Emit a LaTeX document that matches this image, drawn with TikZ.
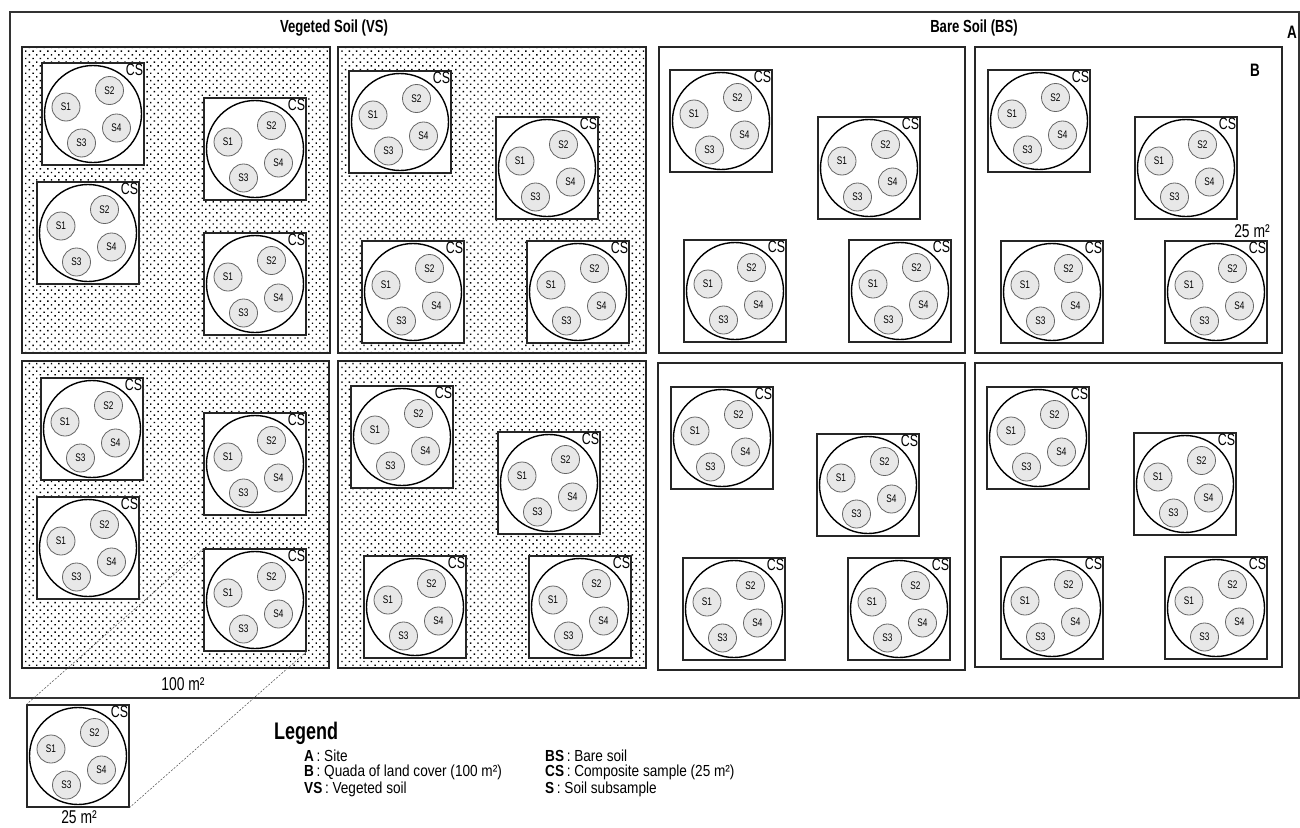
\documentclass[tikz,border=0pt]{standalone}
\usepackage{fontspec}
\setmainfont[FakeStretch=0.75]{Liberation Sans}
\newfontfamily\legfont[FakeStretch=0.85]{Liberation Sans}
\usetikzlibrary{patterns.meta,calc}
\newcommand{\fs}[1]{\fontsize{#1}{#1}\selectfont}
\tikzset{
  csbox/.style={draw=black!85, line width=1.1pt, fill=white, minimum width=102pt, minimum height=102pt, inner sep=0pt},
  cscirc/.style={circle, draw=black, line width=1.4pt, minimum size=97pt, inner sep=0pt},
  sub/.style={circle, draw=black!60, fill=black!9, line width=0.8pt, minimum size=28pt, inner sep=0pt, font=\fs{11}},
  cslabel/.style={anchor=north east, inner sep=1.2pt, font=\fs{16.5}},
  quad/.style={draw=black!85, line width=2pt},
  vsquad/.style={quad, pattern={Dots[distance=5.2pt, radius=1pt, angle=45]}},
  site/.style={draw=black!80, line width=1.5pt},
  zoomline/.style={draw=black!70, line width=0.5pt, dash pattern=on 2pt off 1.5pt},
  title/.style={font=\fs{17.5}\bfseries},
  letter/.style={font=\fs{18}\bfseries},
  area/.style={font=\fs{18.5}},
  legitem/.style={anchor=west, font=\legfont\fs{16}, inner sep=0pt},
}
\newcommand{\csgroup}[3]{%
  \node[csbox] (#1) at ({#2+51},{#3+51}) {};
  \node[cscirc] (#1-c) at (#1.center) {};
  \node[sub] (#1-s1) at ($(#1.center)+(-27,-7)$) {S1};
  \node[sub] (#1-s2) at ($(#1.center)+(16.5,-23.5)$) {S2};
  \node[sub] (#1-s3) at ($(#1.center)+(-11.5,29)$) {S3};
  \node[sub] (#1-s4) at ($(#1.center)+(23.5,14)$) {S4};
  \node[cslabel] (#1-l) at (#1.north east) {CS};
}
\begin{document}
\begin{tikzpicture}[x=1pt,y=-1pt]
\useasboundingbox (0,0) rectangle (1300,827);
% site A
\draw[site] (10,12) rectangle (1299,698);
% quadrats
\draw[vsquad] (22,47) rectangle (330,353);
\draw[vsquad] (338,47) rectangle (646,353);
\draw[quad] (659,47) rectangle (965,353);
\draw[quad] (975,47) rectangle (1282,353);
\draw[vsquad] (22,361) rectangle (329,668);
\draw[vsquad] (338,361) rectangle (646,668);
\draw[quad] (658,363) rectangle (965,670);
\draw[quad] (975,363) rectangle (1282,667);
% composite samples
\csgroup{q1a}{42}{63}\csgroup{q1b}{204}{98}\csgroup{q1c}{37}{182}\csgroup{q1d}{204}{233}
\csgroup{q2a}{349}{71}\csgroup{q2b}{496}{117}\csgroup{q2c}{362}{241}\csgroup{q2d}{527}{241}
\csgroup{q3a}{670}{70}\csgroup{q3b}{818}{117}\csgroup{q3c}{684}{240}\csgroup{q3d}{849}{240}
\csgroup{q4a}{988}{70}\csgroup{q4b}{1135}{117}\csgroup{q4c}{1001}{241}\csgroup{q4d}{1165}{241}
\csgroup{q5a}{41}{378}\csgroup{q5b}{204}{413}\csgroup{q5c}{37}{497}\csgroup{q5d}{204}{549}
\csgroup{q6a}{351}{386}\csgroup{q6b}{498}{432}\csgroup{q6c}{364}{556}\csgroup{q6d}{529}{556}
\csgroup{q7a}{671}{387}\csgroup{q7b}{817}{434}\csgroup{q7c}{683}{558}\csgroup{q7d}{848}{558}
\csgroup{q8a}{987}{387}\csgroup{q8b}{1134}{433}\csgroup{q8c}{1001}{557}\csgroup{q8d}{1165}{557}
\csgroup{zoomcs}{27}{705}
% zoom lines
\draw[zoomline] (q5d.north west) -- (zoomcs.north west);
\draw[zoomline] (q5d.south east) -- (zoomcs.south east);
% titles and labels
\node[title] (vstitle) at (334,28) {Vegeted Soil (VS)};
\node[title] (bstitle) at (974,28) {Bare Soil (BS)};
\node[letter] (lblA) at (1292,32) {A};
\node[letter] (lblB) at (1255,70) {B};
\node[area] (a100) at (183,684) {100 m²};
\node[area] (a25) at (79,817) {25 m²};
\node[area] (a25b) at (1252,231) {25 m²};
% legend
\node[anchor=west, font=\fs{24}, inner sep=0pt] (legend) at (274,733) {\textbf{Legend}};
\node[legitem] (legA) at (304,756) {\textbf{A}\,: Site};
\node[legitem] (legB) at (304,772.5) {\textbf{B}\,: Quada of land cover (100 m²)};
\node[legitem] (legVS) at (304,789) {\textbf{VS}\,: Vegeted soil};
\node[legitem] (legBS) at (545,756) {\textbf{BS}\,: Bare soil};
\node[legitem] (legCS) at (545,772.5) {\textbf{CS}\,: Composite sample (25 m²)};
\node[legitem] (legS) at (545,789) {\textbf{S}\,: Soil subsample};
\end{tikzpicture}
\end{document}
